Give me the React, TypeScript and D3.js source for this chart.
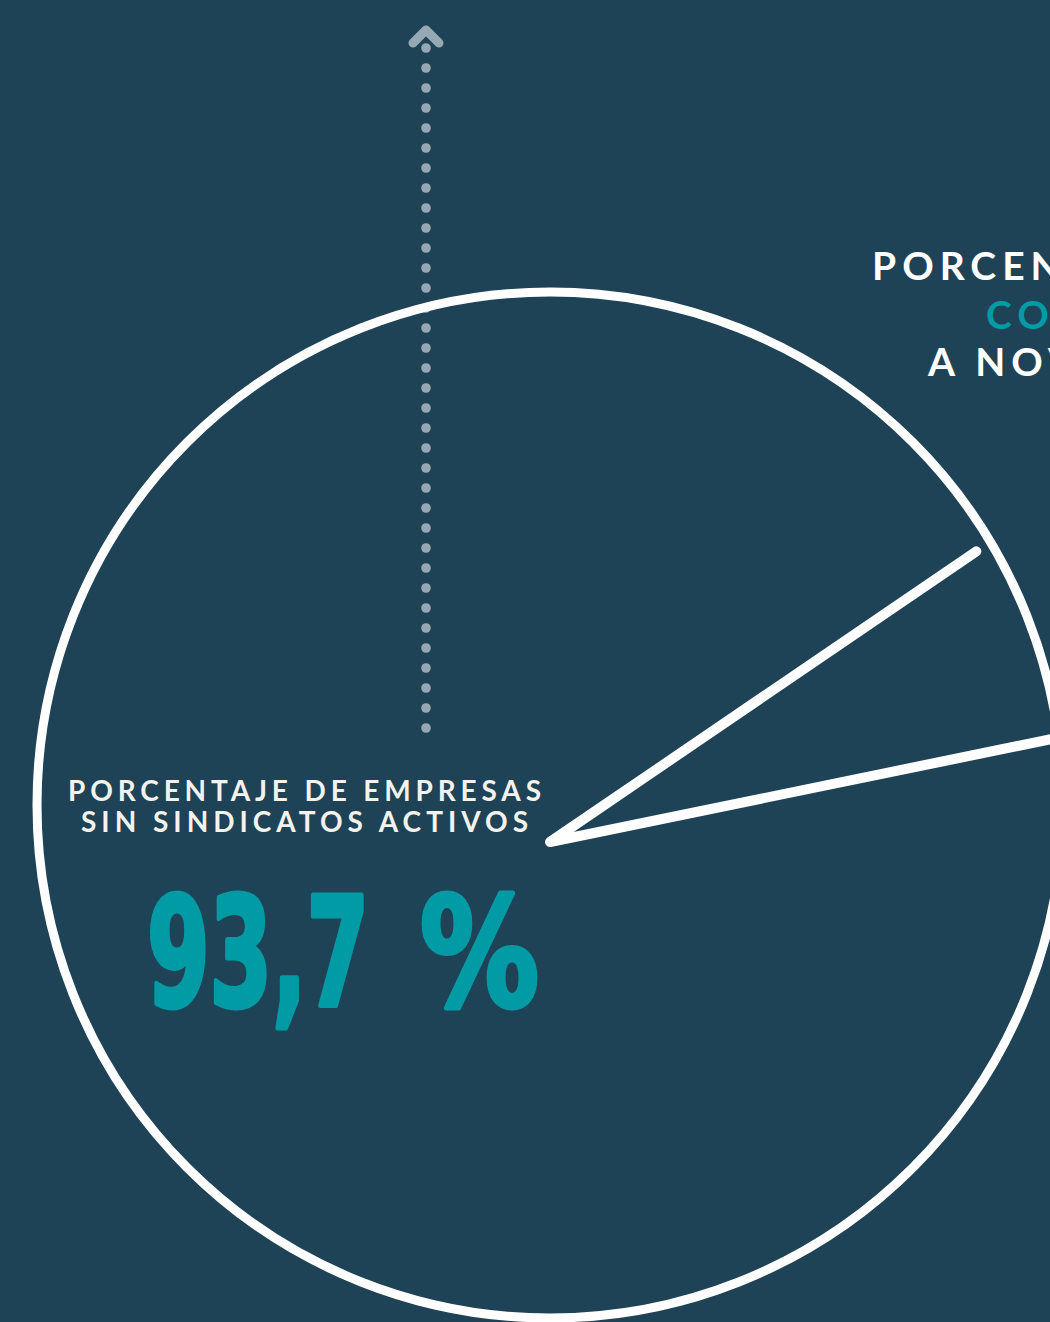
import React from "react";
import * as d3 from "d3";

const categories = ["Sin sindicatos activos", "Con sindicatos activos"];
const shares = [93.7, 6.3];
const mainValueNumber = "93,7";
const mainValueUnit = "%";
const leftLabelLines = ["PORCENTAJE DE EMPRESAS", "SIN SINDICATOS ACTIVOS"];
const rightLabelLines = ["PORCENTAJE DE EMPRESAS", "CON SINDICATOS ACTIVOS", "A NOVIEMBRE DE 2023"];

const W = 1050;
const H = 1322;
const BG = "#1f4356";
const TEAL = "#009ba4";
const DOT = "#95a8b3";
const WHITE = "#ffffff";

export default function App() {
  const circleC = { x: 550, y: 805 };
  const circleR = 513;
  const apex = { x: 550, y: 842 };
  const wedgeR = 516;

  const rotation = (78.4 * Math.PI) / 180;
  const pie = d3
    .pie<number>()
    .sort(null)
    .value((d) => d)
    .startAngle(rotation)
    .endAngle(rotation + 2 * Math.PI);
  const arcs = pie(shares);
  const small = arcs[1];
  const pt = (a: number) => [apex.x + wedgeR * Math.sin(a), apex.y - wedgeR * Math.cos(a)];
  const p1 = pt(small.startAngle);
  const p2 = pt(small.endAngle);

  const dotYs = d3.range(48, 729, 20);
  const font = "Lato, 'Open Sans', sans-serif";

  return (
    <svg
      width={W}
      height={H}
      style={{ position: "absolute", left: 0, top: 0, display: "block" }}
    >
      <rect x={0} y={0} width={W} height={H} fill={BG} />
      {dotYs.map((y, i) => (
        <circle key={i} cx={426} cy={y} r={4.8} fill={DOT} />
      ))}
      <path
        d="M413,43 L426,30 L439,43"
        fill="none"
        stroke={DOT}
        strokeWidth={9}
        strokeLinecap="round"
        strokeLinejoin="round"
      />
      <circle cx={circleC.x} cy={circleC.y} r={circleR} fill="none" stroke={WHITE} strokeWidth={9} />
      <path
        d={`M${p1[0]},${p1[1]} L${apex.x},${apex.y} L${p2[0]},${p2[1]}`}
        fill="none"
        stroke={WHITE}
        strokeWidth={10}
        strokeLinecap="round"
        strokeLinejoin="round"
      >
        <title>{categories[1]}</title>
      </path>

      <g fontFamily={font} fontWeight={700} fill="#f4f2ec" fontSize={28}>
        <text x={68} y={801} textLength={473} lengthAdjust="spacing">
          {leftLabelLines[0]}
        </text>
        <text x={81} y={832} textLength={447} lengthAdjust="spacing">
          {leftLabelLines[1]}
        </text>
      </g>

      <text
        y={1006}
        fontFamily="'Liberation Sans Narrow', 'DejaVu Sans Condensed', sans-serif"
        fontWeight={700}
        fontSize={152}
        fill={TEAL}
        stroke={TEAL}
        strokeWidth={5}
        strokeLinejoin="round"
      >
        <tspan x={147} textLength={222} lengthAdjust="spacingAndGlyphs">
          {mainValueNumber}
        </tspan>
        <tspan x={420} textLength={119} lengthAdjust="spacingAndGlyphs">
          {mainValueUnit}
        </tspan>
      </text>

      <g fontFamily={font} fontWeight={700} fontSize={39} letterSpacing={6}>
        <text x={872} y={280} fill={WHITE}>{rightLabelLines[0]}</text>
        <text x={986} y={329} fill={TEAL}>{rightLabelLines[1]}</text>
        <text x={928} y={376} fill={WHITE}>{rightLabelLines[2]}</text>
      </g>
    </svg>
  );
}
